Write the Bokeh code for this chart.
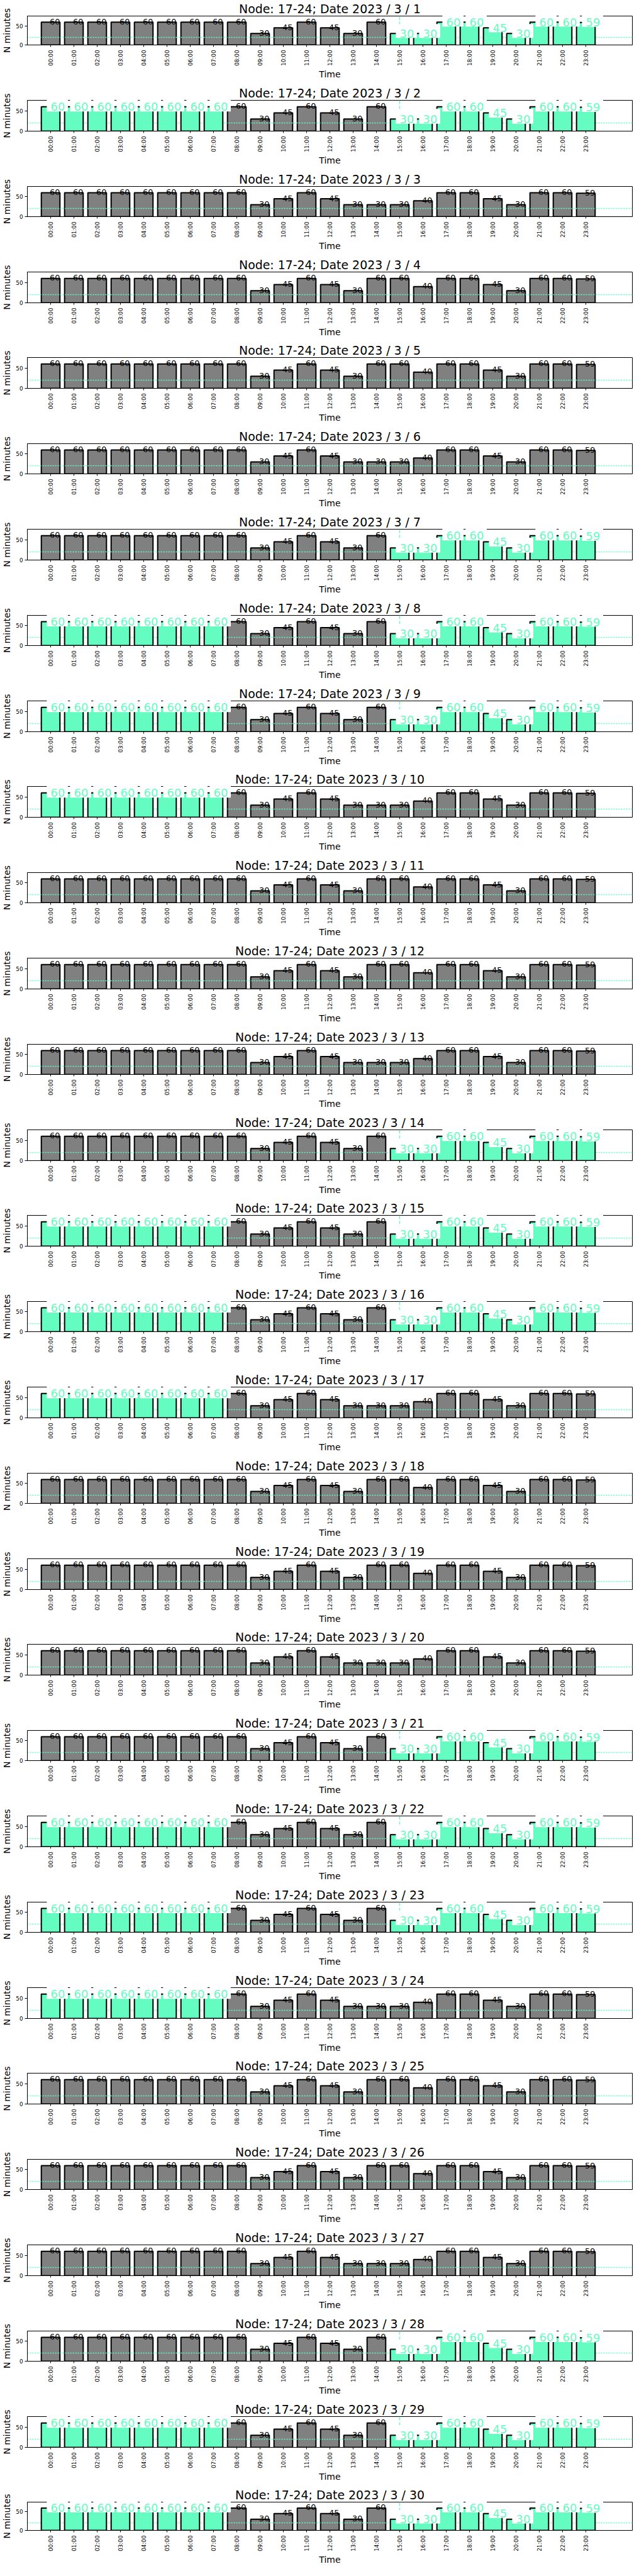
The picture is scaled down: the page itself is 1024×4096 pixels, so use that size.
import math
from bokeh.plotting import figure
from bokeh.layouts import column
from bokeh.models import FixedTicker, Range1d
from bokeh.core.properties import value
from bokeh.embed import file_html
from bokeh.resources import INLINE

# ---------------- data ----------------
NODE = "17-24"
YEAR = 2023
MONTH = 3
DAYS = [1, 2, 3, 4, 5, 6, 7, 8, 9, 10, 11, 12, 13, 14, 15,
        16, 17, 18, 19, 20, 21, 22, 23, 24, 25, 26, 27, 28, 29, 30]

HOURS = ["00:00", "01:00", "02:00", "03:00", "04:00", "05:00", "06:00", "07:00",
         "08:00", "09:00", "10:00", "11:00", "12:00", "13:00", "14:00", "15:00",
         "16:00", "17:00", "18:00", "19:00", "20:00", "21:00", "22:00", "23:00"]

# minutes per hour, three daily profiles seen in the chart
PROFILE_A = [60, 60, 60, 60, 60, 60, 60, 60, 60, 30, 45, 60,
             45, 30, 60, 30, 30, 60, 60, 45, 30, 60, 60, 59]
PROFILE_B = [60, 60, 60, 60, 60, 60, 60, 60, 60, 30, 45, 60,
             45, 30, 30, 30, 40, 60, 60, 45, 30, 60, 60, 59]
PROFILE_C = [60, 60, 60, 60, 60, 60, 60, 60, 60, 30, 45, 60,
             45, 30, 60, 60, 40, 60, 60, 45, 30, 60, 60, 59]

DAY_PROFILE = ["A", "A", "B", "C", "C", "B", "A", "A", "A", "B",
               "C", "C", "B", "A", "A", "A", "B", "C", "C", "B",
               "A", "A", "A", "B", "C", "C", "B", "A", "A", "A"]

# highlighted hours: N = night block, E = evening block
NIGHT_HOURS = [0, 1, 2, 3, 4, 5, 6, 7]
EVENING_HOURS = [15, 16, 17, 18, 19, 20, 21, 22, 23]
DAY_HIGHLIGHT = ["E", "NE", "", "", "", "", "E", "NE", "NE", "N",
                 "", "", "", "E", "NE", "NE", "N", "", "", "",
                 "E", "NE", "NE", "N", "", "", "", "E", "NE", "NE"]

THRESHOLD = 20

# ---------------- style ----------------
GREEN = "#64FCC0"
GRAY = "#808080"
FONT = "DejaVu Sans"
PROFILES = {"A": PROFILE_A, "B": PROFILE_B, "C": PROFILE_C}

PITCH = 136.4
FIG_W = 1008
PAGE_BOTTOM = 4088

n = len(DAYS)
tops = [8] + [round(PITCH * i) for i in range(1, n)]
ends = tops[1:] + [PAGE_BOTTOM]

figs = []
for i, day in enumerate(DAYS):
    vals = PROFILES[DAY_PROFILE[i]]
    hl = DAY_HIGHLIGHT[i]
    green = set()
    if "N" in hl:
        green.update(NIGHT_HOURS)
    if "E" in hl:
        green.update(EVENING_HOURS)

    gx = [h for h in range(24) if h not in green]
    gv = [vals[h] for h in gx]
    cx = [h for h in range(24) if h in green]
    cv = [vals[h] for h in cx]
    starts = [h for h in cx if (h - 1) not in green and h > 0]

    h_fig = ends[i] - tops[i]
    f_top = round(PITCH * i + 30.7) - tops[i]
    f_bot = round(PITCH * i + 84.6) - tops[i]
    b_bot = h_fig - f_bot

    p = figure(width=FIG_W, height=h_fig,
               x_range=Range1d(-1, 25), y_range=Range1d(0, 76),
               output_backend="svg", toolbar_location=None,
               title=f"Node: {NODE}; Date {YEAR} / {MONTH} / {day}",
               min_border_left=39, min_border_right=3,
               min_border_top=f_top, min_border_bottom=b_bot)
    p.background_fill_color = "white"
    p.border_fill_color = "white"
    p.outline_line_color = "black"
    p.outline_line_width = 1
    p.xgrid.visible = False
    p.ygrid.visible = False

    p.title.align = "center"
    p.title.text_font = FONT
    p.title.text_font_size = "18.9px"
    p.title.text_font_style = "normal"
    p.title.text_color = "black"
    p.title.standoff = 1

    xa = p.xaxis[0]
    xa.ticker = FixedTicker(ticks=list(range(24)))
    xa.major_label_overrides = {h: HOURS[h] for h in range(24)}
    xa.major_label_orientation = math.pi / 2
    xa.major_label_text_font = FONT
    xa.major_label_text_font_size = "8.8px"
    xa.major_label_text_color = "black"
    xa.major_label_standoff = 5
    xa.major_tick_out = 3
    xa.major_tick_in = 0
    xa.minor_tick_out = 0
    xa.minor_tick_in = 0
    xa.axis_line_color = "black"
    xa.major_tick_line_color = "black"
    xa.axis_label = "Time"
    xa.axis_label_text_font = FONT
    xa.axis_label_text_font_size = "14px"
    xa.axis_label_text_font_style = "normal"
    xa.axis_label_text_color = "black"
    xa.axis_label_standoff = 2

    ya = p.yaxis[0]
    ya.ticker = FixedTicker(ticks=[0, 50])
    ya.major_label_text_font = FONT
    ya.major_label_text_font_size = "8.8px"
    ya.major_label_text_color = "black"
    ya.major_label_standoff = 3
    ya.major_tick_out = 4
    ya.major_tick_in = 0
    ya.minor_tick_out = 0
    ya.minor_tick_in = 0
    ya.axis_line_color = "black"
    ya.major_tick_line_color = "black"
    ya.axis_label = "N minutes"
    ya.axis_label_text_font = FONT
    ya.axis_label_text_font_size = "13.9px"
    ya.axis_label_text_font_style = "normal"
    ya.axis_label_text_color = "black"
    ya.axis_label_standoff = 3

    # marker line at the start of each highlighted run
    p.vspan(x=starts, line_color=GREEN, line_width=1.5, line_dash="6 3")
    # ordinary bars
    p.vbar(x=gx, top=gv, width=0.8, fill_color=GRAY, line_color="black", line_width=2)
    # threshold
    p.hspan(y=[THRESHOLD], line_color=GREEN, line_width=1.5, line_dash="2 2")
    # highlighted bars
    p.vbar(x=cx, top=cv, width=0.8, fill_color=GREEN, line_color="black", line_width=2)
    # ordinary labels
    p.text(x=[h + 0.18 for h in gx], y=gv, text=[str(v) for v in gv],
           text_align="center", text_baseline="alphabetic", y_offset=-1,
           text_font=value(FONT), text_font_size="12.9px", text_color="black",
           level="annotation")
    # highlighted labels on white boxes
    p.quad(left=[h - 0.165 for h in cx], right=[h + 0.743 for h in cx],
           bottom=[v - 11.6 for v in cv], top=[v + 25 for v in cv],
           fill_color="white", line_color=None, level="annotation")
    p.text(x=cx, y=cv, text=[str(v) for v in cv],
           text_align="left", text_baseline="alphabetic",
           text_font=value(FONT), text_font_size="17.9px", text_color=GREEN,
           level="annotation")

    figs.append(p)

layout = column(*figs, spacing=0)
open("out.html", "w").write(file_html(layout, INLINE))
